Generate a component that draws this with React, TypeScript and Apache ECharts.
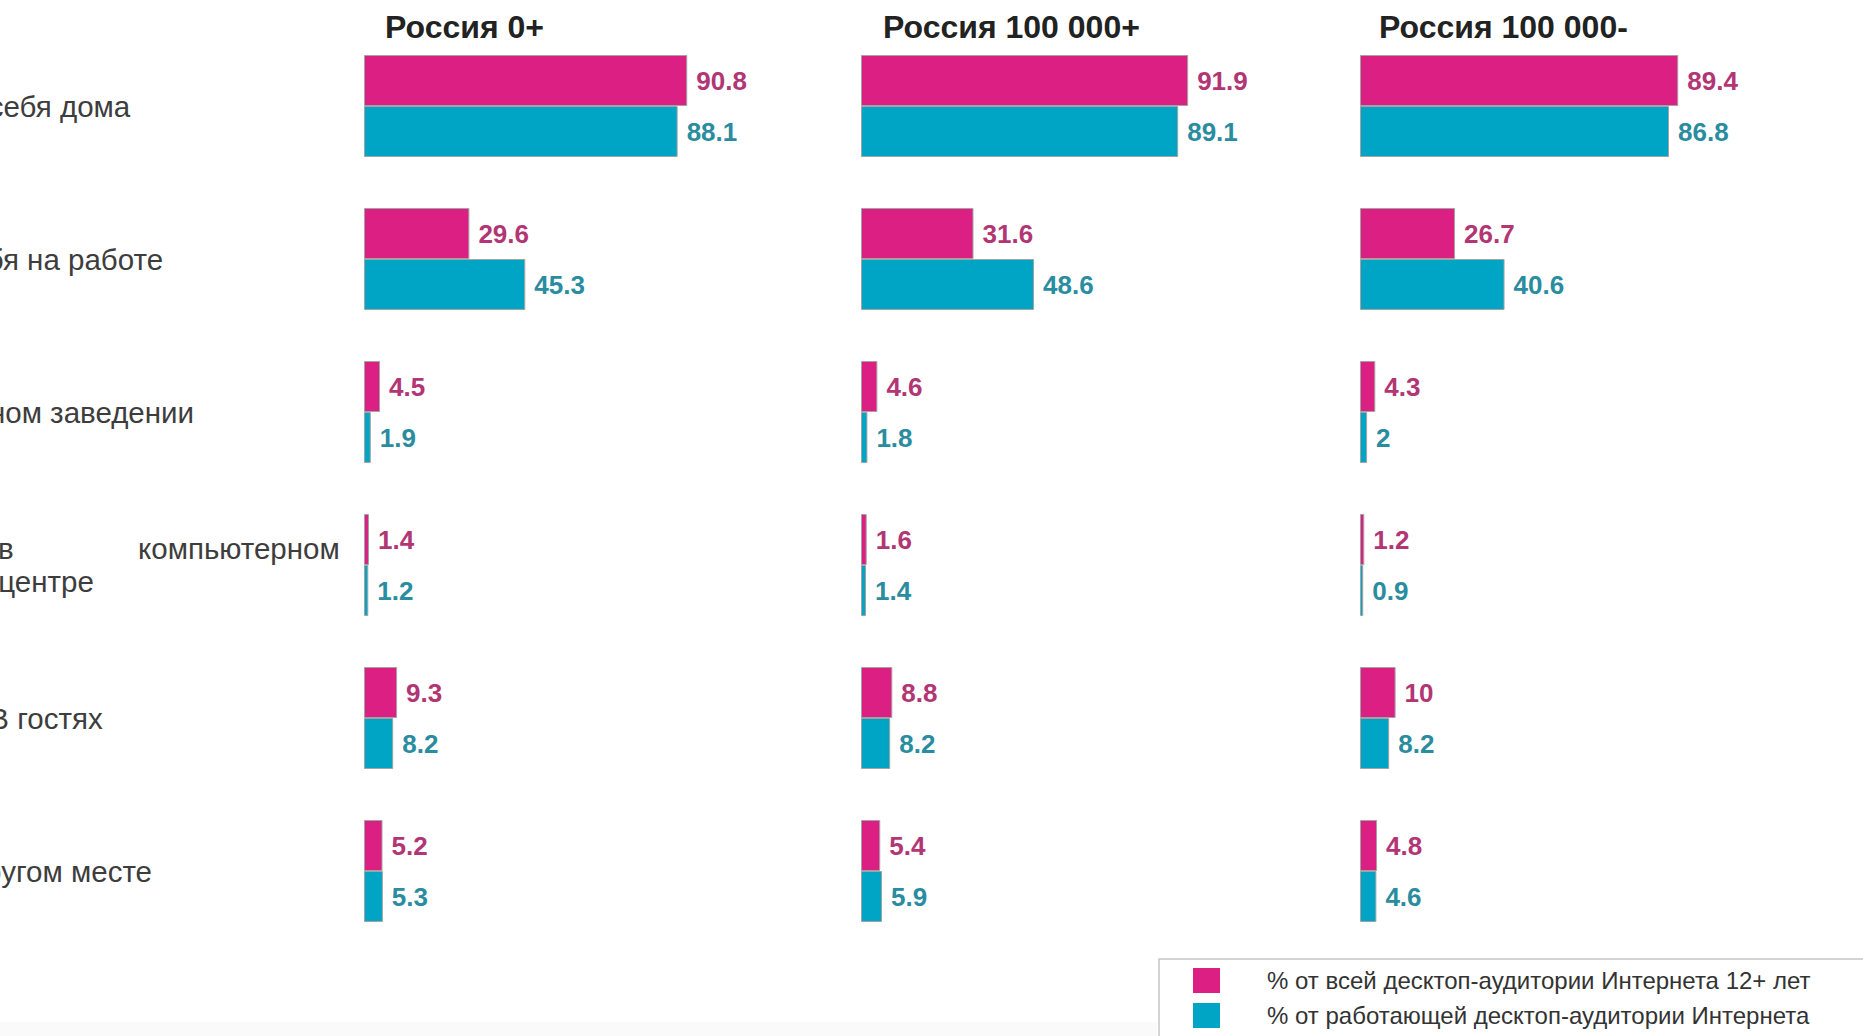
import React, { useEffect, useRef } from "react";
import * as echarts from "echarts";

const categories = [
  "У себя дома",
  "У себя на работе",
  "В учебном заведении",
  "В интернет-кафе, в компьютерном центре",
  "В гостях",
  "В другом месте",
];
const panelTitles = ["Россия 0+", "Россия 100 000+", "Россия 100 000-"];
const seriesNames = [
  "% от всей десктоп-аудитории Интернета 12+ лет",
  "% от работающей десктоп-аудитории Интернета",
];
const allRussia0 = [90.8, 29.6, 4.5, 1.4, 9.3, 5.2];
const workRussia0 = [88.1, 45.3, 1.9, 1.2, 8.2, 5.3];
const allRussia100p = [91.9, 31.6, 4.6, 1.6, 8.8, 5.4];
const workRussia100p = [89.1, 48.6, 1.8, 1.4, 8.2, 5.9];
const allRussia100m = [89.4, 26.7, 4.3, 1.2, 10, 4.8];
const workRussia100m = [86.8, 40.6, 2, 0.9, 8.2, 4.6];

const panelData = [
  [allRussia0, workRussia0],
  [allRussia100p, workRussia100p],
  [allRussia100m, workRussia100m],
];

const PINK = "#dc1f83";
const BLUE = "#00a4c5";
const PINK_LABEL = "#b23574";
const BLUE_LABEL = "#2a8c9f";
const FONT = "'Liberation Sans', Arial, sans-serif";

const gridLefts = [364, 861, 1360];
const titleLefts = [385, 883, 1379];

export default function App() {
  const ref = useRef<HTMLDivElement>(null);

  useEffect(() => {
    if (!ref.current) return;
    const chart = echarts.init(ref.current, null, { renderer: "svg" });

    const grids = gridLefts.map((l) => ({
      left: l,
      top: 29.5,
      width: 356,
      height: 918,
      containLabel: false,
      outerBoundsMode: "none",
    }));
    const xAxes = gridLefts.map((_, i) => ({
      type: "value",
      gridIndex: i,
      min: 0,
      max: 100,
      show: false,
    }));
    const tok = { fontSize: 29.5, fontFamily: FONT, color: "#3d3d3d", lineHeight: 33 };
    const yAxes = gridLefts.map((_, i) => ({
      type: "category",
      gridIndex: i,
      data: categories,
      inverse: true,
      axisLine: { show: false },
      axisTick: { show: false },
      splitLine: { show: false },
      axisLabel:
        i === 0
          ? {
              show: true,
              align: "center",
              margin: 318,
              fontSize: 29.5,
              fontFamily: FONT,
              color: "#3d3d3d",
              lineHeight: 33,
              formatter: (value: string, idx: number) =>
                idx === 3
                  ? "{a|В интернет-кафе,}{b|в}{c|компьютерном}\n{d|центре}"
                  : value,
              rich: {
                a: { ...tok, width: 243, align: "left" },
                b: { ...tok, width: 140, align: "left" },
                c: { ...tok, width: 199, align: "left" },
                d: { ...tok, align: "center" },
              },
            }
          : { show: false },
    }));

    const series: any[] = [];
    panelData.forEach((pair, i) => {
      pair.forEach((vals, j) => {
        series.push({
          type: "bar",
          name: seriesNames[j],
          xAxisIndex: i,
          yAxisIndex: i,
          data: vals,
          barWidth: 51,
          barGap: "0%",
          itemStyle: {
            color: j === 0 ? PINK : BLUE,
            borderColor: "#a3a3a3",
            borderWidth: 1,
          },
          label: {
            show: true,
            position: "right",
            distance: 9,
            fontSize: 26,
            fontWeight: "bold",
            fontFamily: FONT,
            color: j === 0 ? PINK_LABEL : BLUE_LABEL,
            formatter: "{c}",
          },
        });
      });
    });

    chart.setOption({
      animation: false,
      backgroundColor: "#ffffff",
      title: panelTitles.map((t, i) => ({
        text: t,
        left: titleLefts[i],
        top: 9,
        padding: 0,
        textStyle: {
          fontSize: 32,
          fontWeight: "bold",
          fontFamily: FONT,
          color: "#222222",
          lineHeight: 36,
        },
      })),
      grid: grids,
      xAxis: xAxes,
      yAxis: yAxes,
      legend: {
        show: true,
        orient: "vertical",
        left: 1193,
        top: 968,
        padding: 0,
        itemWidth: 27,
        itemHeight: 25,
        itemGap: 10,
        icon: "rect",
        selectedMode: false,
        data: seriesNames,
        itemStyle: { borderWidth: 0 },
        textStyle: {
          fontSize: 24,
          fontFamily: FONT,
          color: "#333333",
          padding: [0, 0, 0, 42],
        },
      },
      graphic: [
        {
          type: "rect",
          left: 0,
          top: 1022,
          shape: { width: 1157, height: 14 },
          style: { fill: "#fafafa" },
          z: -1,
        },
        {
          type: "rect",
          shape: { x: 1159, y: 959, width: 900, height: 200 },
          style: { fill: "none", stroke: "#c6c6c6", lineWidth: 1.5 },
          z: -1,
        },
      ],
      series,
    });

    return () => {
      chart.dispose();
    };
  }, []);

  return (
    <div
      ref={ref}
      style={{
        position: "fixed",
        left: 0,
        top: 0,
        width: 1863,
        height: 1036,
        background: "#ffffff",
      }}
    />
  );
}
